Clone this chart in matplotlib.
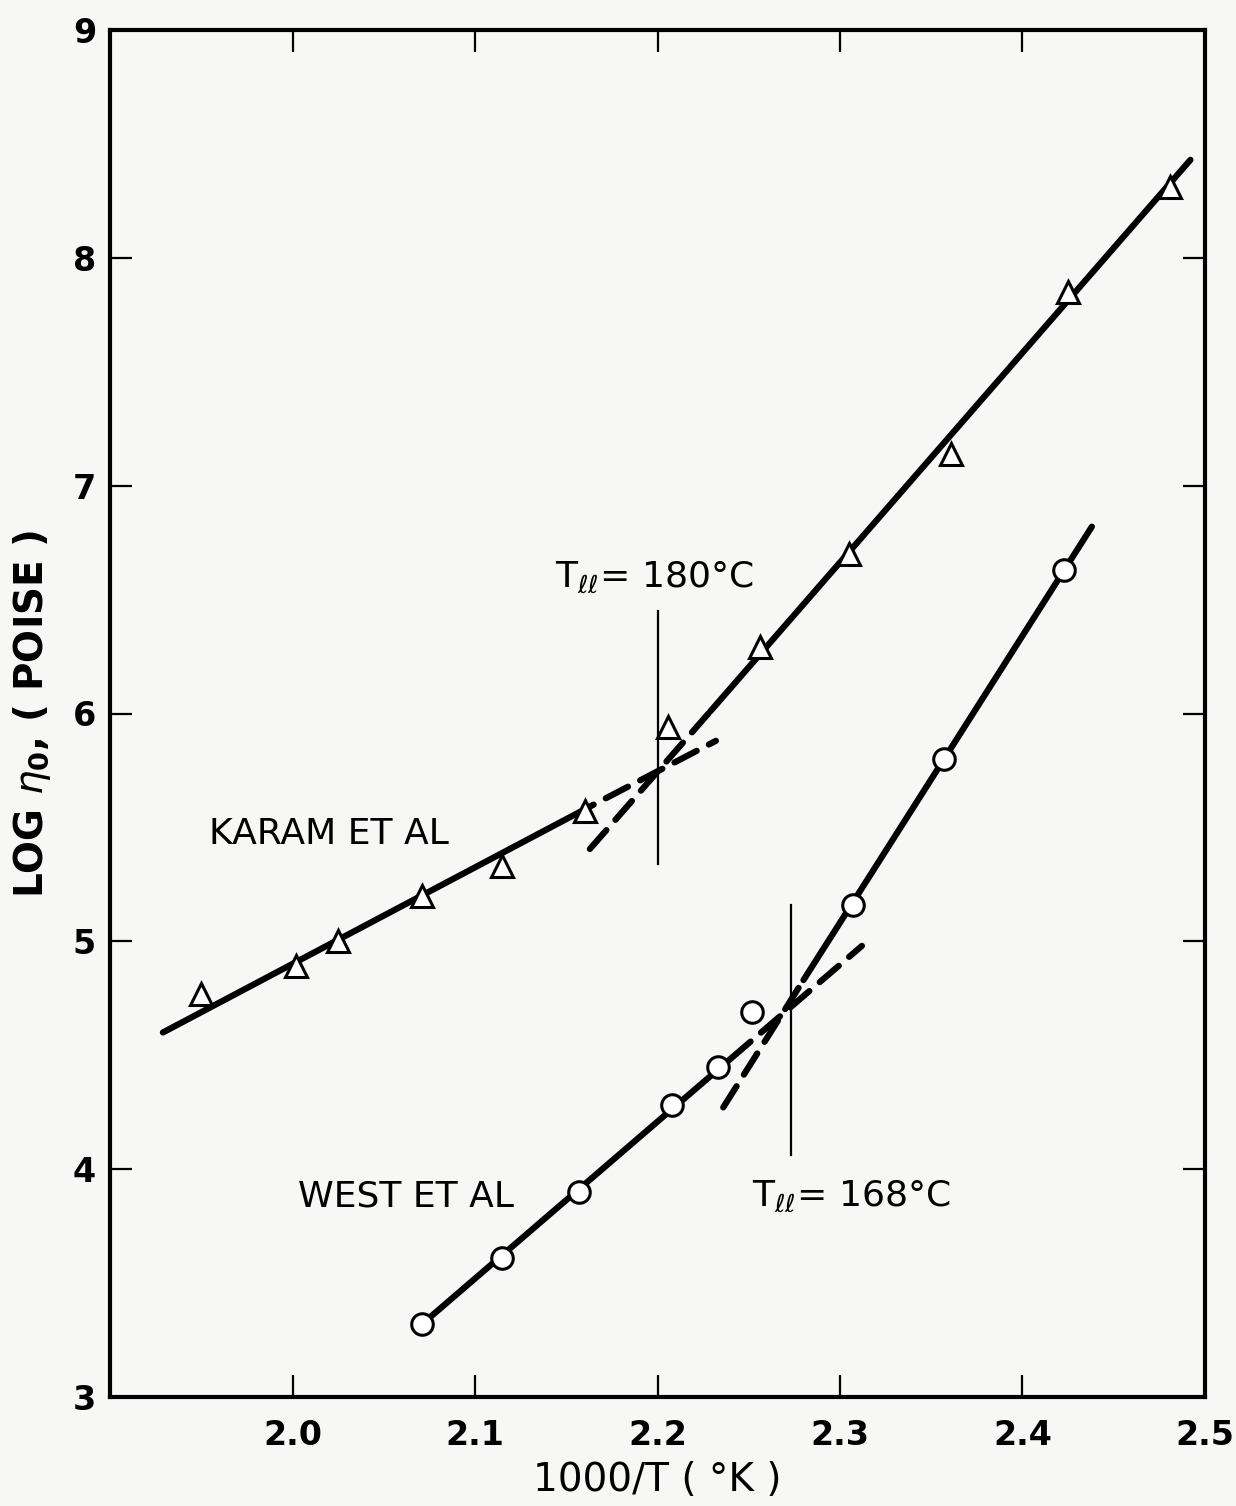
import matplotlib
matplotlib.use("Agg")
import matplotlib.pyplot as plt

# ---- data ----
karam_x = [1.950, 2.002, 2.025, 2.071, 2.115, 2.160, 2.206, 2.256, 2.305, 2.361, 2.425, 2.481]
karam_y = [4.77, 4.89, 5.00, 5.20, 5.33, 5.57, 5.94, 6.29, 6.70, 7.14, 7.85, 8.31]

west_x = [2.071, 2.115, 2.157, 2.208, 2.233, 2.252, 2.307, 2.357, 2.423]
west_y = [3.32, 3.61, 3.90, 4.28, 4.45, 4.69, 5.16, 5.80, 6.63]

# fitted lines (end points)
karam_low_solid_x = [1.929, 2.165]
karam_low_solid_y = [4.60, 5.60]
karam_low_dash_x = [2.165, 2.232]
karam_low_dash_y = [5.60, 5.88]
karam_high_dash_x = [2.158, 2.229]
karam_high_dash_y = [5.36, 6.01]
karam_high_solid_x = [2.229, 2.492]
karam_high_solid_y = [6.01, 8.43]

west_low_solid_x = [2.071, 2.251]
west_low_solid_y = [3.32, 4.56]
west_low_dash_x = [2.251, 2.312]
west_low_dash_y = [4.56, 4.98]
west_high_dash_x = [2.232, 2.280]
west_high_dash_y = [4.22, 4.83]
west_high_solid_x = [2.280, 2.438]
west_high_solid_y = [4.83, 6.82]

# transition markers
tll_karam_x = [2.200, 2.200]
tll_karam_y = [5.34, 6.45]
tll_west_x = [2.273, 2.273]
tll_west_y = [4.06, 5.16]

x_ticks = [2.0, 2.1, 2.2, 2.3, 2.4, 2.5]
x_ticklabels = ["2.0", "2.1", "2.2", "2.3", "2.4", "2.5"]
y_ticks = [3, 4, 5, 6, 7, 8, 9]
y_ticklabels = ["3", "4", "5", "6", "7", "8", "9"]

# ---- figure ----
bg = "#f7f7f5"
fig = plt.figure(figsize=(12.36, 15.06), dpi=100, facecolor=bg)
ax = fig.add_axes([110/1236, 1 - 1397/1506, (1205-110)/1236, (1397-30)/1506])
ax.set_facecolor(bg)
ax.set_xlim(1.9, 2.5)
ax.set_ylim(3, 9)

LW = 4.5
dash_off = (4.0, (4.0, 2.2))

for xs, ys in [(karam_low_solid_x, karam_low_solid_y), (karam_high_solid_x, karam_high_solid_y),
               (west_low_solid_x, west_low_solid_y), (west_high_solid_x, west_high_solid_y)]:
    ax.plot(xs, ys, color="black", lw=LW, solid_capstyle="round", zorder=2)

for xs, ys in [(karam_low_dash_x, karam_low_dash_y), (karam_high_dash_x, karam_high_dash_y),
               (west_low_dash_x, west_low_dash_y), (west_high_dash_x, west_high_dash_y)]:
    ax.plot(xs, ys, color="black", lw=LW, linestyle=dash_off, dash_capstyle="round", zorder=2)

ax.plot(tll_karam_x, tll_karam_y, color="black", lw=1.6, zorder=1)
ax.plot(tll_west_x, tll_west_y, color="black", lw=1.6, zorder=1)

ax.plot(karam_x, karam_y, linestyle="none", marker="^", ms=16, mfc="white",
        mec="black", mew=2.2, zorder=3)
ax.plot(west_x, west_y, linestyle="none", marker="o", ms=15.5, mfc="white",
        mec="black", mew=2.2, zorder=3)

fs_lab = 26
ax.text(1.954, 5.47, "KARAM ET AL", fontsize=fs_lab, ha="left", va="center")
ax.text(2.003, 3.88, "WEST ET AL", fontsize=fs_lab, ha="left", va="center")
ax.text(2.144, 6.60, r"T$_{\ell\ell}$= 180°C", fontsize=fs_lab, ha="left", va="center")
ax.text(2.252, 3.88, r"T$_{\ell\ell}$= 168°C", fontsize=fs_lab, ha="left", va="center")

ax.set_xticks(x_ticks)
ax.set_xticklabels(x_ticklabels, fontweight="bold")
ax.set_yticks(y_ticks)
ax.set_yticklabels(y_ticklabels, fontweight="bold")
ax.tick_params(direction="in", length=16, width=1.6, top=True, right=True,
               labelsize=24, pad=10)
ax.tick_params(axis="x", pad=16)
for s in ax.spines.values():
    s.set_linewidth(3.0)

ax.set_xlabel("1000/T ( °K )", fontsize=28, labelpad=6)
ax.set_ylabel(r"LOG $\eta_\mathbf{0}$, ( POISE )", fontsize=28, fontweight="bold", labelpad=14)

fig.savefig("out.png", dpi=100, facecolor=bg)
